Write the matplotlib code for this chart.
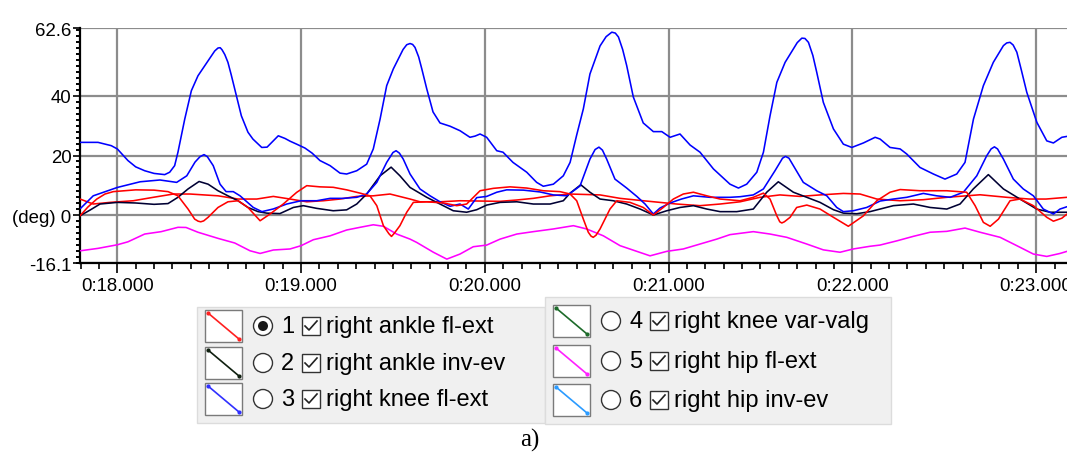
import matplotlib.pyplot as plt
from matplotlib.patches import Rectangle, Circle
from matplotlib.ticker import MultipleLocator, FixedLocator, FuncFormatter

# joint angles (deg) against record time (s)
t_knee_fl = [17.80, 17.895, 17.967, 18.0, 18.058, 18.10, 18.149, 18.20, 18.258, 18.285, 18.312, 18.33,
             18.367, 18.403, 18.439, 18.476, 18.512, 18.53, 18.548, 18.56, 18.57, 18.585, 18.602, 18.62,
             18.639, 18.675, 18.711, 18.738, 18.786, 18.815, 18.847, 18.876, 18.913, 18.94, 18.976, 19.021,
             19.06, 19.103, 19.158, 19.212, 19.248, 19.303, 19.357, 19.393, 19.43, 19.466, 19.502, 19.538,
             19.555, 19.575, 19.593, 19.607, 19.62, 19.64, 19.657, 19.684, 19.718, 19.756, 19.811, 19.865,
             19.919, 19.947, 19.974, 20.01, 20.065, 20.099, 20.153, 20.228, 20.282, 20.318, 20.373, 20.427,
             20.464, 20.50, 20.536, 20.572, 20.627, 20.66, 20.691, 20.71, 20.727, 20.75, 20.772, 20.808,
             20.862, 20.917, 20.963, 21.008, 21.062, 21.117, 21.171, 21.244, 21.334, 21.38, 21.425, 21.48,
             21.516, 21.552, 21.589, 21.634, 21.679, 21.70, 21.725, 21.742, 21.761, 21.785, 21.806, 21.842,
             21.897, 21.951, 21.997, 22.06, 22.124, 22.151, 22.205, 22.26, 22.296, 22.368, 22.441, 22.504,
             22.568, 22.613, 22.659, 22.713, 22.767, 22.822, 22.84, 22.858, 22.875, 22.895, 22.92, 22.949,
             23.004, 23.058, 23.094, 23.14, 23.168]
knee_fl = [24.4, 24.4, 23.3, 22.2, 18.3, 16.2, 14.9, 14.0, 13.6, 14.4, 16.6, 21.1,
           32.2, 41.7, 46.7, 50.1, 53.4, 55.0, 56.0, 56.1, 55.4, 53.8, 51.2, 47.0,
           42.3, 33.3, 27.8, 25.5, 22.7, 22.8, 24.8, 26.6, 25.7, 24.8, 23.8, 22.5,
           20.8, 18.3, 16.6, 14.1, 13.8, 14.9, 17.1, 22.2, 32.2, 43.4, 49.0, 53.4,
           55.5, 57.1, 57.5, 57.2, 56.2, 53.0, 49.0, 42.3, 34.6, 30.9, 29.8, 28.3,
           26.1, 26.5, 27.2, 26.1, 21.6, 21.1, 17.7, 14.4, 11.0, 9.7, 10.4, 13.2,
           17.7, 26.9, 35.6, 47.3, 56.7, 59.8, 61.3, 61.0, 59.7, 55.5, 50.1, 39.6,
           30.9, 28.0, 28.0, 26.1, 27.2, 23.5, 21.1, 15.5, 10.4, 9.1, 10.4, 14.4,
           21.1, 33.3, 44.5, 51.2, 55.7, 57.8, 59.3, 59.2, 57.9, 53.5, 47.9, 37.8,
           28.9, 23.8, 22.7, 24.2, 26.1, 25.5, 22.7, 22.2, 20.5, 16.0, 13.8, 12.1,
           13.8, 17.7, 32.2, 43.4, 51.2, 56.8, 57.7, 57.9, 57.0, 54.6, 48.5, 41.2,
           31.1, 24.9, 24.2, 26.1, 26.4]

t_hip_ie = [17.80, 17.869, 18.0, 18.124, 18.232, 18.323, 18.378, 18.423, 18.45, 18.472, 18.49, 18.522,
            18.559, 18.592, 18.631, 18.668, 18.740, 18.787, 18.849, 18.922, 19.0, 19.085, 19.158, 19.23,
            19.303, 19.357, 19.412, 19.466, 19.50, 19.517, 19.535, 19.556, 19.593, 19.647, 19.702, 19.756,
            19.811, 19.865, 19.91, 19.956, 20.01, 20.065, 20.119, 20.21, 20.30, 20.373, 20.446, 20.518,
            20.572, 20.60, 20.621, 20.64, 20.663, 20.708, 20.772, 20.827, 20.872, 20.917, 20.953, 21.008,
            21.07, 21.135, 21.225, 21.334, 21.389, 21.461, 21.516, 21.579, 21.62, 21.636, 21.655, 21.679,
            21.733, 21.806, 21.861, 21.915, 21.951, 22.005, 22.078, 22.151, 22.223, 22.296, 22.386, 22.459,
            22.532, 22.604, 22.677, 22.731, 22.755, 22.773, 22.79, 22.822, 22.876, 22.93, 22.985, 23.039,
            23.094, 23.13, 23.168]
hip_ie = [2.3, 6.5, 9.3, 11.2, 11.8, 11.0, 13.2, 17.8, 19.6, 20.3, 19.6, 16.6,
          10.4, 7.9, 7.9, 6.5, 2.6, 1.2, 2.1, 3.75, 4.85, 4.85, 5.65, 5.65,
          6.0, 7.1, 11.0, 17.7, 21.0, 21.6, 20.8, 18.8, 13.8, 8.8, 6.5, 4.5,
          3.0, 3.75, 2.07, 5.9, 6.3, 7.7, 8.5, 8.4, 7.8, 6.8, 6.5, 9.8,
          18.8, 22.0, 22.8, 21.8, 18.8, 12.1, 9.1, 6.3, 3.75, 0.4, 2.4, 4.1,
          5.42, 6.5, 6.0, 6.0, 6.2, 6.8, 8.8, 14.9, 19.1, 19.7, 19.1, 16.6,
          11.0, 8.2, 6.5, 2.6, 1.2, 1.5, 2.6, 4.75, 5.42, 6.0, 7.3, 6.5,
          6.0, 7.7, 13.2, 19.9, 22.2, 22.9, 22.2, 18.8, 12.1, 8.8, 6.5, 2.07,
          0.4, 2.07, 2.85]

t_ankle_ie = [17.797, 17.851, 17.906, 18.0, 18.10, 18.20, 18.276, 18.33, 18.385, 18.445, 18.494, 18.548,
              18.602, 18.657, 18.711, 18.766, 18.813, 18.885, 18.958, 19.012, 19.085, 19.175, 19.248, 19.303,
              19.357, 19.43, 19.49, 19.538, 19.593, 19.684, 19.756, 19.828, 19.901, 19.956, 20.01, 20.083,
              20.174, 20.264, 20.355, 20.427, 20.464, 20.522, 20.572, 20.627, 20.699, 20.772, 20.845, 20.917,
              20.99, 21.062, 21.135, 21.208, 21.28, 21.371, 21.461, 21.534, 21.597, 21.679, 21.752, 21.824,
              21.897, 21.951, 22.024, 22.096, 22.151, 22.223, 22.332, 22.423, 22.514, 22.586, 22.658, 22.74,
              22.822, 22.912, 23.003, 23.075, 23.168]
ankle_ie = [-0.2, 1.7, 3.75, 4.3, 4.1, 3.65, 3.9, 6.0, 8.8, 11.3, 10.4, 8.2,
            6.5, 4.85, 2.6, 1.2, 0.7, 0.55, 2.6, 3.2, 2.3, 1.5, 1.8, 3.75,
            7.1, 13.2, 16.1, 13.2, 9.3, 6.0, 3.75, 1.5, 1.0, 1.85, 3.4, 4.3,
            4.5, 3.75, 3.75, 4.85, 7.4, 10.2, 7.7, 5.42, 4.85, 3.75, 2.07, 0.07,
            1.5, 2.6, 3.2, 2.07, 1.2, 1.2, 2.07, 7.7, 11.2, 7.7, 6.0, 4.3,
            1.85, 0.7, 0.5, 1.2, 2.07, 3.2, 3.75, 2.6, 2.07, 3.75, 8.8, 13.6,
            8.8, 5.42, 2.07, 1.0, 1.0]

t_hip_fl = [17.80, 17.895, 18.0, 18.058, 18.149, 18.239, 18.33, 18.374, 18.439, 18.548, 18.639, 18.722,
            18.777, 18.849, 18.94, 19.0, 19.067, 19.158, 19.248, 19.321, 19.393, 19.448, 19.52, 19.593,
            19.629, 19.72, 19.793, 19.865, 19.937, 20.01, 20.083, 20.174, 20.264, 20.373, 20.482, 20.554,
            20.645, 20.736, 20.827, 20.899, 20.99, 21.08, 21.171, 21.262, 21.334, 21.461, 21.552, 21.643,
            21.752, 21.842, 21.933, 22.005, 22.096, 22.15, 22.241, 22.332, 22.423, 22.514, 22.613, 22.695,
            22.804, 22.895, 22.985, 23.058, 23.13, 23.168]
hip_fl = [-11.9, -11.1, -9.9, -8.9, -6.3, -5.5, -4.05, -4.1, -5.7, -7.75, -9.3, -11.9,
          -12.8, -11.65, -11.3, -10.2, -8.2, -6.9, -4.95, -4.05, -3.2, -3.7, -6.3, -8.0,
          -9.1, -12.4, -14.7, -13.0, -10.55, -10.0, -8.0, -6.3, -5.5, -4.6, -3.5, -4.6,
          -6.9, -10.2, -12.1, -13.6, -12.1, -11.3, -9.65, -8.0, -6.5, -5.5, -6.3, -7.4,
          -9.65, -11.6, -12.4, -11.3, -10.4, -10.0, -8.6, -7.07, -5.7, -5.4, -4.3, -5.7,
          -7.4, -10.2, -13.0, -13.8, -12.8, -12.1]

t_ankle_fl = [17.797, 17.84, 17.888, 17.933, 17.978, 18.10, 18.20, 18.276, 18.33, 18.385, 18.421, 18.44,
              18.454, 18.47, 18.494, 18.548, 18.602, 18.657, 18.711, 18.777, 18.831, 18.903, 18.976, 19.031,
              19.103, 19.175, 19.248, 19.321, 19.375, 19.412, 19.448, 19.478, 19.492, 19.508, 19.538, 19.575,
              19.611, 19.684, 19.774, 19.847, 19.901, 19.974, 20.046, 20.137, 20.228, 20.318, 20.409, 20.464,
              20.50, 20.536, 20.563, 20.578, 20.59, 20.605, 20.627, 20.681, 20.718, 20.79, 20.862, 20.917,
              20.971, 21.026, 21.08, 21.135, 21.208, 21.28, 21.389, 21.461, 21.516, 21.552, 21.589, 21.605,
              21.616, 21.63, 21.661, 21.697, 21.752, 21.824, 21.897, 21.978, 22.06, 22.133, 22.205, 22.26,
              22.368, 22.514, 22.622, 22.668, 22.713, 22.75, 22.795, 22.858, 22.912, 22.985, 23.058, 23.094,
              23.14, 23.168]
ankle_fl = [-0.2, 2.75, 5.4, 7.1, 7.9, 8.5, 8.4, 7.9, 6.5, 2.07, -1.3, -2.0,
            -2.2, -1.9, -0.7, 2.6, 4.5, 4.85, 2.6, -1.85, 0.4, 3.75, 7.65, 9.9,
            9.5, 9.35, 8.5, 7.4, 6.5, 3.2, -3.5, -6.2, -7.1, -6.0, -3.5, 1.0,
            4.3, 4.5, 4.1, 3.2, 3.75, 8.2, 9.0, 9.5, 9.1, 8.2, 7.9, 7.1,
            4.85, -1.3, -5.7, -7.0, -7.4, -6.7, -4.6, 2.07, 4.85, 4.3, 2.6, 0.07,
            2.6, 5.42, 7.1, 7.7, 6.5, 5.42, 4.85, 6.0, 7.4, 5.42, -0.2, -2.2,
            -2.6, -2.2, -0.7, 2.6, 3.4, 2.07, -0.7, -3.7, -0.2, 4.85, 7.7, 8.6,
            8.2, 8.2, 7.7, 3.2, -2.4, -3.7, -1.3, 4.85, 5.42, 3.2, -0.7, -2.0,
            -1.0, 0.4]

t_knee_vv = [17.797, 17.869, 17.96, 18.087, 18.196, 18.305, 18.396, 18.548, 18.657, 18.759, 18.849, 18.94,
             19.031, 19.121, 19.212, 19.303, 19.393, 19.484, 19.593, 19.647, 19.756, 19.865, 20.083, 20.174,
             20.264, 20.355, 20.464, 20.627, 20.736, 20.862, 20.953, 21.044, 21.171, 21.28, 21.389, 21.498,
             21.606, 21.715, 21.824, 21.951, 22.042, 22.133, 22.26, 22.386, 22.514, 22.695, 22.84, 22.963,
             23.054, 23.168]
knee_vv = [5.42, 3.75, 4.3, 4.85, 6.0, 7.1, 7.1, 6.5, 5.42, 5.42, 6.3, 5.42,
           4.5, 4.85, 5.42, 6.3, 6.5, 7.1, 5.42, 4.5, 4.5, 4.85, 4.65, 5.1,
           5.65, 6.5, 7.1, 6.8, 5.65, 4.85, 4.3, 3.75, 3.2, 3.75, 4.5, 6.0,
           6.8, 6.3, 6.8, 7.3, 7.1, 5.42, 4.85, 5.2, 6.0, 6.85, 6.0, 5.42,
           5.42, 6.0]

y_ticks = [-16.1, 0, 20, 40, 62.6]
y_tick_labels = ['-16.1', '(deg) 0', '20', '40', '62.6']

legend_rows = [('1', 'right ankle fl-ext', '#ff2020'),
               ('2', 'right ankle inv-ev', '#102010'),
               ('3', 'right knee fl-ext', '#3030ff'),
               ('4', 'right knee var-valg', '#1d6b2a'),
               ('5', 'right hip fl-ext', '#ff20ff'),
               ('6', 'right hip inv-ev', '#2b9bff')]

W, H = 1067, 456
fig = plt.figure(figsize=(W / 100, H / 100), dpi=100)
ax = fig.add_axes([80 / W, 1 - 264.3 / H, (W - 80) / W, 235 / H])

line_kw = dict(lw=1.15, solid_joinstyle='round', solid_capstyle='round')
ax.plot(t_hip_fl, hip_fl, color='#ff00ff', zorder=3, **line_kw)
ax.plot(t_knee_vv, knee_vv, color='#ff0000', zorder=3, **line_kw)
ax.plot(t_ankle_ie, ankle_ie, color='#000033', zorder=4, **line_kw)
ax.plot(t_hip_ie, hip_ie, color='#0000ff', zorder=4, **line_kw)
ax.plot(t_ankle_fl, ankle_fl, color='#ff0000', zorder=5, **line_kw)
ax.plot(t_knee_fl, knee_fl, color='#0000ff', zorder=5, **line_kw)

ax.set_xlim(17.797, 23.168)
ax.set_ylim(-16.1, 62.6)

ax.xaxis.set_major_locator(MultipleLocator(1))
ax.xaxis.set_minor_locator(MultipleLocator(0.1))
ax.xaxis.set_major_formatter(FuncFormatter(lambda s, pos: '0:%d.000' % round(s)))
ax.yaxis.set_major_locator(FixedLocator(y_ticks))
ax.set_yticklabels(y_tick_labels)
ax.yaxis.set_minor_locator(MultipleLocator(2))

ax.grid(True, which='major', color='#8c8c8c', lw=1.6, zorder=1)
ax.set_axisbelow(True)
for side in ['top', 'right']:
    ax.spines[side].set_visible(False)
for side in ['left', 'bottom']:
    ax.spines[side].set_linewidth(1.6)

ax.tick_params(axis='x', which='major', length=7, width=1.2, pad=3, labelsize=13.4)
ax.tick_params(axis='x', which='minor', length=4, width=1.2)
ax.tick_params(axis='y', which='major', length=5, width=1.2, pad=1, labelsize=13.4)
ax.tick_params(axis='y', which='minor', length=3, width=1.4)
for lab in ax.get_xticklabels() + ax.get_yticklabels():
    lab.set_family('Liberation Sans')

# legend panel drawn in pixel coordinates
lg = fig.add_axes([0, 0, 1, 1])
lg.set_xlim(0, W)
lg.set_ylim(H, 0)
lg.axis('off')
lg.patch.set_alpha(0)

lg.add_patch(Rectangle((197, 308), 348, 116, fc='#f0f0f0', ec='#dcdcdc', lw=1))
lg.add_patch(Rectangle((545, 298), 346, 127, fc='#f0f0f0', ec='#dcdcdc', lw=1))

panels = [(205, [327, 364, 400]), (553, [322, 362, 401])]
for i, (num, name, col) in enumerate(legend_rows):
    x0, ys = panels[i // 3]
    yc = ys[i % 3]
    lg.add_patch(Rectangle((x0, yc - 16), 37, 32, fc='white', ec='#7a7a7a', lw=1))
    lg.plot([x0 + 3, x0 + 34], [yc - 13, yc + 13], color=col, lw=1.2)
    lg.plot([x0 + 3, x0 + 34], [yc - 13, yc + 13], 'o', color=col, ms=2)
    lg.add_patch(Circle((x0 + 58, yc), 9.5, fc='white', ec='#333333', lw=1))
    if i == 0:
        lg.add_patch(Circle((x0 + 58, yc), 5, fc='#1a1a1a', ec='none'))
    lg.text(x0 + 76, yc, num, fontsize=17, family='Liberation Sans', va='center', ha='left')
    lg.add_patch(Rectangle((x0 + 97, yc - 9), 18, 18, fc='white', ec='#333333', lw=1))
    lg.plot([x0 + 100, x0 + 104, x0 + 112], [yc, yc + 4, yc - 5], color='#222222', lw=1.2)
    lg.text(x0 + 121, yc, name, fontsize=17, family='Liberation Sans', va='center', ha='left')

lg.text(530, 440, 'a)', fontsize=18, family='Liberation Serif', ha='center', va='center')

fig.savefig('out.png', dpi=100)
